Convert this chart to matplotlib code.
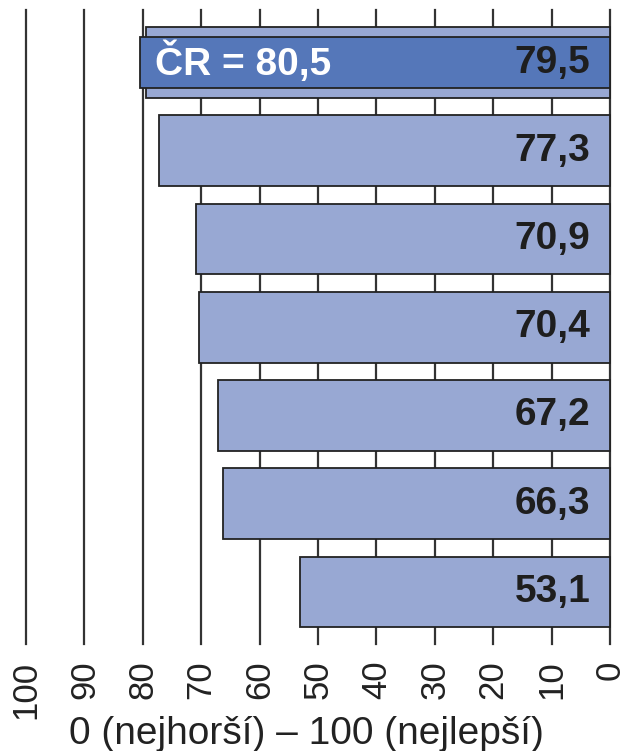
import matplotlib
matplotlib.use("Agg")
import matplotlib.pyplot as plt

values = [79.5, 77.3, 70.9, 70.4, 67.2, 66.3, 53.1]
value_labels = ["79,5", "77,3", "70,9", "70,4", "67,2", "66,3", "53,1"]
cr_value = 80.5
cr_label = "ČR = 80,5"
ticks = [100, 90, 80, 70, 60, 50, 40, 30, 20, 10, 0]
xlabel = "0 (nejhorší) – 100 (nejlepší)"

light = "#98A8D3"
dark = "#5577B9"
fam = ["Liberation Sans", "DejaVu Sans"]

fig = plt.figure(figsize=(6.27, 7.51), dpi=100)
ax = fig.add_axes([26/627, 107/751, 584/627, 634/751])

for t in ticks:
    ax.axvline(t, color="#333333", lw=1.6, zorder=1, clip_on=False)

ypos = list(range(len(values)))
bars = ax.barh(ypos, values, height=0.8, color=light, edgecolor="#222222", lw=1.3, zorder=2)
crbar = ax.barh([0], [cr_value], height=0.57, color=dark, edgecolor="#222222", lw=1.3, zorder=3)
for b in list(bars) + list(crbar):
    b.set_clip_on(False)

for y, lab in zip(ypos, value_labels):
    ax.annotate(lab, xy=(0, y), xytext=(-14, 0), textcoords="offset points",
                ha="right", va="center", fontsize=28, fontweight="bold",
                family=fam, color="#1e1e1e", zorder=5)
ax.annotate(cr_label, xy=(cr_value, 0), xytext=(11, 0), textcoords="offset points",
            ha="left", va="center", fontsize=28, fontweight="bold",
            family=fam, color="white", zorder=5)

ax.set_xlim(100, 0)
ax.set_ylim(6.59, -0.595)
ax.set_xticks(ticks)
ax.set_xticklabels([str(t) for t in ticks], rotation=90, fontsize=25,
                   family=fam, color="#222222")
ax.tick_params(axis="x", length=0, pad=12)
ax.set_yticks([])
for s in ax.spines.values():
    s.set_visible(False)
fig.text(306/627, 7/751, xlabel, fontsize=28, family=fam, color="#222222",
         ha="center", va="baseline")

fig.savefig("out.png", dpi=100)
